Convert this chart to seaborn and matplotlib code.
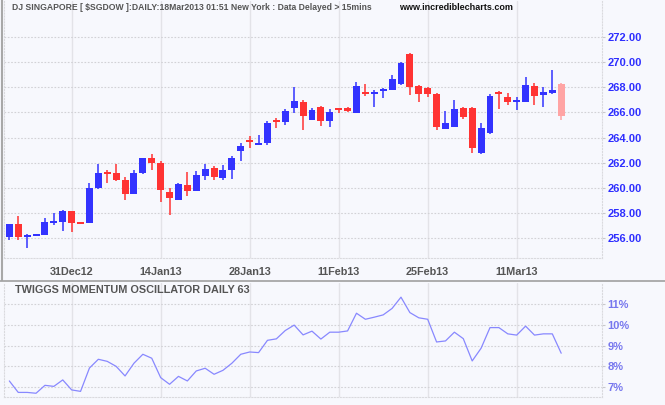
import numpy as np
import pandas as pd
import matplotlib
matplotlib.use('Agg')
import matplotlib.pyplot as plt
from matplotlib.lines import Line2D
import seaborn as sns

# ─── DATA ────────────────────────────────────────────────────────────────────
dates = pd.bdate_range('2012-12-20', '2013-03-18')

opens = [256.12, 257.10, 256.10, 256.18, 256.28, 257.23, 257.31, 258.16, 257.20, 257.23,
         260.00, 261.16, 261.16, 260.61, 259.52, 261.16, 262.35, 261.95, 259.66, 259.08,
         260.21, 259.76, 260.95, 261.56, 260.79, 261.42, 262.93, 263.69, 263.41, 263.56,
         265.35, 265.22, 266.33, 266.86, 265.43, 266.46, 265.35, 266.22, 266.38, 265.99,
         267.65, 267.49, 267.73, 267.81, 268.28, 270.66, 268.12, 267.97, 267.49, 264.72,
         264.88, 266.38, 266.38, 262.74, 264.33, 267.65, 267.25, 266.84, 266.86, 268.12,
         267.41, 267.57, 268.28]
highs = [257.10, 257.76, 256.34, 256.28, 257.60, 258.00, 258.23, 258.18, 257.21, 260.37,
         261.87, 261.46, 261.87, 260.85, 261.40, 262.37, 262.67, 262.11, 259.97, 260.37,
         261.24, 261.34, 261.87, 261.72, 261.79, 262.53, 263.56, 264.11, 264.17, 265.28,
         265.59, 266.30, 268.04, 267.02, 266.38, 266.50, 266.30, 266.38, 266.40, 268.44,
         268.28, 267.81, 267.97, 269.00, 270.02, 270.70, 268.15, 268.00, 267.57, 266.15,
         267.02, 266.40, 266.40, 265.12, 267.49, 267.73, 267.57, 267.25, 268.84, 268.36,
         268.04, 269.39, 268.30]
lows = [255.84, 255.86, 255.25, 256.16, 256.25, 257.07, 256.60, 256.52, 257.15, 257.20,
        259.95, 260.39, 260.53, 259.03, 259.50, 261.10, 261.40, 258.87, 257.84, 259.05,
        259.37, 259.72, 260.63, 260.63, 260.66, 260.69, 262.13, 263.14, 263.41, 263.38,
        264.75, 264.98, 265.99, 264.64, 265.40, 264.90, 264.88, 265.99, 266.07, 265.95,
        267.33, 266.46, 267.17, 267.78, 268.20, 267.41, 266.86, 267.25, 264.64, 264.70,
        264.85, 265.51, 262.77, 262.72, 264.30, 266.30, 266.62, 266.22, 266.84, 266.62,
        266.46, 267.49, 265.43]
closes = [257.10, 256.12, 256.23, 256.26, 257.28, 257.31, 258.18, 257.23, 257.17, 259.97,
          261.16, 261.12, 260.61, 259.52, 261.16, 262.35, 261.98, 259.82, 259.18, 260.29,
          259.76, 261.00, 261.48, 260.87, 261.40, 262.35, 263.32, 263.65, 263.45, 265.12,
          265.22, 266.15, 266.94, 265.75, 266.22, 265.35, 266.07, 266.18, 266.15, 268.12,
          267.49, 267.65, 267.81, 268.68, 269.94, 268.04, 267.49, 267.49, 264.88, 265.12,
          266.30, 265.67, 263.14, 264.80, 267.33, 267.49, 266.86, 266.88, 268.20, 267.33,
          267.65, 267.81, 265.75]
twiggs = [7.30, 6.75, 6.75, 6.71, 7.09, 7.04, 7.35, 6.87, 6.80, 7.92,
          8.34, 8.24, 8.00, 7.54, 8.15, 8.58, 8.39, 7.46, 7.14, 7.52,
          7.30, 7.78, 7.91, 7.62, 7.81, 8.15, 8.58, 8.69, 8.66, 9.25,
          9.32, 9.72, 9.98, 9.51, 9.69, 9.31, 9.64, 9.64, 9.70, 10.55,
          10.26, 10.36, 10.47, 10.78, 11.32, 10.58, 10.33, 10.26, 9.17, 9.22,
          9.64, 9.33, 8.26, 8.87, 9.86, 9.86, 9.56, 9.50, 9.93, 9.50,
          9.56, 9.56, 8.63]

tick_dates = ['2012-12-31', '2013-01-14', '2013-01-28', '2013-02-11', '2013-02-25', '2013-03-11']
price_ticks = [256, 258, 260, 262, 264, 266, 268, 270, 272]
osc_ticks = [7, 8, 9, 10, 11]

# ─── STYLE ───────────────────────────────────────────────────────────────────
sns.set_style('white')
plt.rcParams['font.family'] = ['Liberation Sans', 'DejaVu Sans']

bg = '#F7F8FD'
W, H = 665, 405
fig = plt.figure(figsize=(W / 100, H / 100), dpi=100, facecolor=bg)


def rect(l, t, r, b):
    return [l / W, 1 - b / H, (r - l) / W, (b - t) / H]


ax = fig.add_axes(rect(4, 1, 601.7, 258.3))
ax2 = fig.add_axes(rect(4, 283, 601.7, 397))

# ─── CANDLES ─────────────────────────────────────────────────────────────────
o = np.array(opens)
c = np.array(closes)
x = np.arange(len(dates))
colors = np.where(c >= o, '#3333FF', '#FF3333').astype(object)
colors[-1] = '#FFA4A4'   # today's bar, still open
bottom = np.minimum(o, c)
height = np.maximum(np.abs(c - o), 0.16)

ax.vlines(x, lows, highs, colors=colors, lw=1.1, zorder=2)
ax.bar(x, height, bottom=bottom, width=0.78, color=colors, lw=0, zorder=3)

ax.set_xlim(-0.6, 66.55)
ax.set_ylim(254.41, 274.85)

tick_pos = [dates.get_loc(pd.Timestamp(d)) for d in tick_dates]
tick_lab = [pd.Timestamp(d).strftime('%d%b%y') for d in tick_dates]

ax.set_xticks(tick_pos)
ax.set_xticklabels(tick_lab)
ax.set_yticks(price_ticks)
ax.set_yticklabels([f'{v:.2f}' for v in price_ticks])
ax.yaxis.tick_right()
ax.tick_params(axis='x', length=0, pad=6, labelsize=7.8, labelcolor='#555555')
ax.tick_params(axis='y', length=2.5, width=0.8, color='#C8C8CC', pad=1.5,
               labelsize=8, labelcolor='#2E2EFF')

# ─── OSCILLATOR ──────────────────────────────────────────────────────────────
sns.lineplot(x=x, y=twiggs, ax=ax2, color='#8888FF', lw=0.9)
ax2.set_xlim(-0.6, 66.55)
ax2.set_ylim(6.53, 12.0)
ax2.set_xticks(tick_pos)
ax2.set_xticklabels([])
ax2.set_yticks(osc_ticks)
ax2.set_yticklabels([f'{v}%' for v in osc_ticks])
ax2.yaxis.tick_right()
ax2.tick_params(axis='x', length=0)
ax2.tick_params(axis='y', length=2.5, width=0.8, color='#C8C8CC', pad=1.5,
                labelsize=8, labelcolor='#7777EE')

for a in (ax, ax2):
    a.set_facecolor(bg)
    a.set_xlabel('')
    a.set_ylabel('')
    a.grid(axis='y', ls=(0, (1.5, 1.5)), color='#D2D2D6', lw=0.8)
    a.grid(axis='x', ls='-', color='#E3E3E8', lw=1.0)
    a.set_axisbelow(True)
    a.spines['top'].set_visible(False)
    for s in ('left', 'bottom', 'right'):
        a.spines[s].set_color('#DADADE')
        a.spines[s].set_linestyle(':')
        a.spines[s].set_linewidth(0.8)
    for lbl in a.get_xticklabels() + a.get_yticklabels():
        lbl.set_fontweight('bold')

# ─── TEXT + FRAME ────────────────────────────────────────────────────────────
fig.text(12 / W, 1 - 7.5 / H,
         'DJ SINGAPORE [ $SGDOW ]:DAILY:18Mar2013 01:51 New York : Data Delayed > 15mins',
         fontsize=6.2, fontweight='bold', color='#555555', va='center', ha='left')
fig.text(456 / W, 1 - 7.5 / H, 'www.incrediblecharts.com',
         fontsize=6.5, fontweight='bold', color='#111111', va='center', ha='center')
fig.text(15 / W, 1 - 290 / H, 'TWIGGS MOMENTUM OSCILLATOR DAILY 63',
         fontsize=7.8, fontweight='bold', color='#555555', va='center', ha='left')

fig.add_artist(Line2D([1.5 / W, 1.5 / W], [1, 1 - 280 / H], color='#A8A8A8', lw=1.5))
fig.add_artist(Line2D([0, 1], [1 - 280.5 / H, 1 - 280.5 / H], color='#A0A0A0', lw=1.2))

fig.savefig('out.png', dpi=100, facecolor=bg)
